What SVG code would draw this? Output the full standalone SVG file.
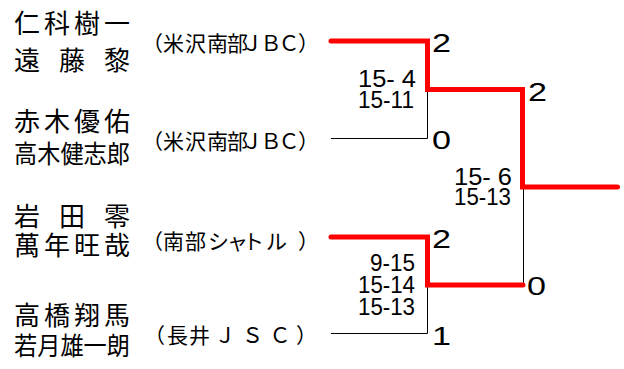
<svg xmlns="http://www.w3.org/2000/svg" width="624" height="369" viewBox="0 0 624 369">
<style>
.nm{font-family:"Noto Sans CJK JP","Noto Sans",sans-serif;font-size:26px;fill:#000}
.nm5{font-family:"Noto Sans CJK JP","Noto Sans",sans-serif;font-size:25px;fill:#000}
.cl{font-family:"Noto Sans CJK JP","Noto Sans",sans-serif;font-size:21px;fill:#000}
.sc{font-family:"Liberation Sans",Arial,sans-serif;font-size:26px;fill:#000}
.gs{font-family:"Liberation Sans",Arial,sans-serif;font-size:24px;fill:#000}
.win{fill:none;stroke:#ff0000;stroke-width:5;stroke-linecap:round;stroke-linejoin:miter}
.lose{fill:none;stroke:#000;stroke-width:1}
</style>
<rect width="624" height="369" fill="#fff"/>
<g id="connectors">
<polyline class="lose" points="331,138.5 427.5,138.5 427.5,89"/>
<polyline class="lose" points="331,333.5 427.5,333.5 427.5,285"/>
<polyline class="lose" points="523.5,285 523.5,187"/>
<polyline class="win" points="331,41 427.5,41 427.5,89.5 522.5,89.5 522.5,187 617.5,187"/>
<polyline class="win" points="331,237 427.5,237 427.5,285 523,285"/>
</g>
<g id="entry1">
<text class="nm" x="14 44 74 104" y="33">仁科樹一</text>
<text class="nm" x="14 59 104" y="70">遠藤黎</text>
<text class="cl" x="142 163 185 207 227 241.5 260.5 278.5 298" y="51">（米沢南部ＪＢＣ）</text>
</g>
<g id="entry2">
<text class="nm" x="14 44 74 104" y="131">赤木優佑</text>
<text class="nm5" x="14" y="163" textLength="116" lengthAdjust="spacingAndGlyphs">高木健志郎</text>
<text class="cl" x="142 163 185 207 227 241.5 260.5 278.5 298" y="149">（米沢南部ＪＢＣ）</text>
</g>
<g id="entry3">
<text class="nm" x="14 59 104" y="226">岩田零</text>
<text class="nm" x="14 44 74 104" y="255">萬年旺哉</text>
<text class="cl" x="142 163 185 208 227 243 266 298" y="249">（南部シャトル）</text>
</g>
<g id="entry4">
<text class="nm" x="14 44 74 104" y="325">高橋翔馬</text>
<text class="nm5" x="14" y="355" textLength="116" lengthAdjust="spacingAndGlyphs">若月雄一朗</text>
<text class="cl" x="144 167 189 214.5 242 269.5 296" y="343">（長井ＪＳＣ）</text>
</g>
<g id="match1">
<text class="gs" x="358" y="87" textLength="58" lengthAdjust="spacingAndGlyphs">15- 4</text>
<text class="gs" x="358" y="108" textLength="56" lengthAdjust="spacingAndGlyphs">15-11</text>
<text class="sc" x="432" y="52" textLength="19" lengthAdjust="spacingAndGlyphs">2</text>
<text class="sc" x="432" y="149" textLength="19" lengthAdjust="spacingAndGlyphs">0</text>
</g>
<g id="match2">
<text class="gs" x="370" y="271" textLength="45" lengthAdjust="spacingAndGlyphs">9-15</text>
<text class="gs" x="358" y="293" textLength="57" lengthAdjust="spacingAndGlyphs">15-14</text>
<text class="gs" x="358" y="315" textLength="57" lengthAdjust="spacingAndGlyphs">15-13</text>
<text class="sc" x="432" y="248" textLength="19" lengthAdjust="spacingAndGlyphs">2</text>
<text class="sc" x="432" y="345" textLength="19" lengthAdjust="spacingAndGlyphs">1</text>
</g>
<g id="final">
<text class="gs" x="454" y="185" textLength="58" lengthAdjust="spacingAndGlyphs">15- 6</text>
<text class="gs" x="454" y="205" textLength="57" lengthAdjust="spacingAndGlyphs">15-13</text>
<text class="sc" x="528" y="101" textLength="19" lengthAdjust="spacingAndGlyphs">2</text>
<text class="sc" x="527" y="295" textLength="19" lengthAdjust="spacingAndGlyphs">0</text>
</g>
</svg>
